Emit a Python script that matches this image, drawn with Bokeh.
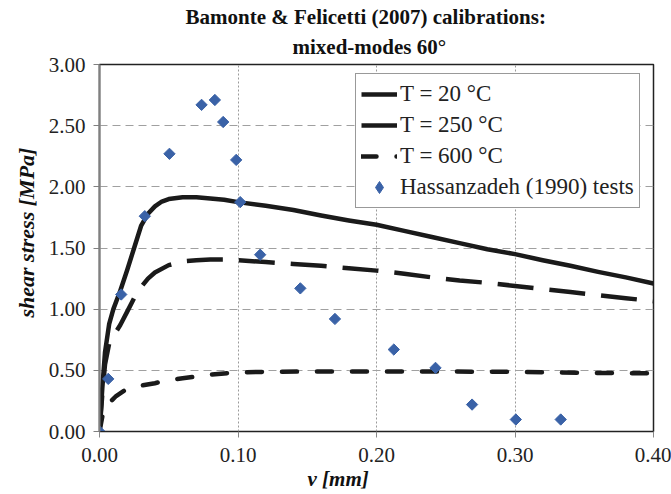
import numpy as np
from bokeh.plotting import figure
from bokeh.models import (FixedTicker, PrintfTickFormatter, Legend, LegendItem, Range1d, Title)
from bokeh.embed import file_html
from bokeh.resources import INLINE

# ---------------- data ----------------
x_20 = [0, 0.002, 0.004, 0.007, 0.010, 0.015, 0.020, 0.025, 0.030, 0.035, 0.040, 0.045, 0.050,
        0.060, 0.070, 0.080, 0.090, 0.100, 0.120, 0.140, 0.160, 0.180, 0.200, 0.220, 0.240,
        0.260, 0.280, 0.300, 0.320, 0.340, 0.360, 0.380, 0.400]
y_20 = [0, 0.35, 0.65, 0.88, 1.00, 1.15, 1.32, 1.50, 1.68, 1.78, 1.84, 1.88, 1.90,
        1.915, 1.915, 1.905, 1.895, 1.875, 1.845, 1.81, 1.765, 1.725, 1.69, 1.64, 1.59,
        1.54, 1.49, 1.45, 1.40, 1.355, 1.305, 1.26, 1.21]

x_250 = [0, 0.002, 0.004, 0.007, 0.010, 0.015, 0.020, 0.025, 0.030, 0.035, 0.040, 0.050,
         0.060, 0.070, 0.080, 0.090, 0.100, 0.120, 0.140, 0.160, 0.180, 0.200, 0.220, 0.240,
         0.260, 0.280, 0.300, 0.320, 0.340, 0.360, 0.380, 0.400]
y_250 = [0, 0.30, 0.55, 0.72, 0.78, 0.87, 0.98, 1.09, 1.18, 1.25, 1.30, 1.36,
         1.39, 1.40, 1.405, 1.405, 1.40, 1.385, 1.37, 1.355, 1.335, 1.315, 1.29, 1.26,
         1.235, 1.215, 1.19, 1.165, 1.14, 1.115, 1.09, 1.065]

x_600 = [0, 0.002, 0.004, 0.008, 0.012, 0.018, 0.025, 0.030, 0.040, 0.050, 0.060, 0.070,
         0.080, 0.090, 0.100, 0.120, 0.150, 0.200, 0.250, 0.300, 0.350, 0.400]
y_600 = [0, 0.12, 0.20, 0.245, 0.29, 0.335, 0.365, 0.375, 0.395, 0.42, 0.435, 0.45,
         0.465, 0.475, 0.482, 0.488, 0.49, 0.49, 0.49, 0.488, 0.48, 0.475]

x_test = [0.0, 0.0063, 0.0157, 0.0327, 0.0505, 0.0737, 0.0833, 0.0893, 0.0987, 0.1016,
          0.116, 0.145, 0.170, 0.2125, 0.2426, 0.269, 0.3006, 0.333]
y_test = [0.0, 0.43, 1.12, 1.76, 2.27, 2.67, 2.71, 2.53, 2.22, 1.875,
          1.445, 1.17, 0.92, 0.67, 0.52, 0.22, 0.098, 0.098]

x_ticks = [0.0, 0.1, 0.2, 0.3, 0.4]
y_ticks = [0.0, 0.5, 1.0, 1.5, 2.0, 2.5, 3.0]

title_1 = "Bamonte & Felicetti (2007) calibrations:"
title_2 = "mixed-modes 60°"
x_title = "v [mm]"
y_title = "shear stress [MPa]"
labels = ["T = 20 °C", "T = 250 °C", "T = 600 °C", "Hassanzadeh (1990) tests"]

# ---------------- figure ----------------
FONT = "Liberation Serif"
W, H = 671, 494
p = figure(width=W, height=H, output_backend="svg", toolbar_location=None,
           x_range=Range1d(0, 0.40), y_range=Range1d(0, 3.0),
           min_border_left=99, min_border_right=18, min_border_top=64, min_border_bottom=63)
p.background_fill_color = "white"
p.border_fill_color = "white"
p.outline_line_color = "#222222"
p.outline_line_width = 1.5

for ax in (p.xaxis[0], p.yaxis[0]):
    ax.major_label_text_font = FONT
    ax.major_label_text_font_size = "21px"
    ax.major_label_text_color = "#222222"
    ax.minor_tick_line_color = None
    ax.major_tick_in = 0
    ax.major_tick_out = 6
    ax.formatter = PrintfTickFormatter(format="%.2f")
p.xaxis[0].ticker = FixedTicker(ticks=x_ticks)
p.yaxis[0].ticker = FixedTicker(ticks=y_ticks)
p.xaxis[0].axis_line_color = "#222222"
p.xaxis[0].major_tick_line_color = "#888888"
p.xaxis[0].major_label_standoff = 10
p.yaxis[0].axis_line_color = "#808080"
p.yaxis[0].axis_line_width = 2
p.yaxis[0].major_tick_line_color = "#808080"
p.yaxis[0].major_label_standoff = 8

p.xgrid[0].grid_line_color = "#9a9a9a"
p.xgrid[0].grid_line_dash = "2 2"
p.xgrid[0].grid_line_width = 1
p.ygrid[0].grid_line_color = "#a0a0a0"
p.ygrid[0].grid_line_dash = "8 5"
p.ygrid[0].grid_line_width = 1

LC = "#1a1a1a"
DC = "#3a62a7"
r20 = p.line(x_20, y_20, line_color=LC, line_width=4.5, line_join="round")
r250 = p.line(x_250, y_250, line_color=LC, line_width=4.5, line_dash="36 16", line_cap="butt")
r600 = p.line(x_600, y_600, line_color=LC, line_width=4.5, line_dash="15 20", line_cap="round")
rt = p.scatter(x_test, y_test, marker="square", angle=np.pi / 4, size=8,
               fill_color=DC, line_color=DC)
# legend-only glyph (diamond shape), placed outside the visible range
rleg = p.scatter([-1.0], [-1.0], marker="diamond", size=11, fill_color=DC, line_color=DC)

legend = Legend(items=[LegendItem(label=labels[0], renderers=[r20]),
                       LegendItem(label=labels[1], renderers=[r250]),
                       LegendItem(label=labels[2], renderers=[r600]),
                       LegendItem(label=labels[3], renderers=[rleg])],
                location=(256, 223))
legend.label_text_font = FONT
legend.label_text_font_size = "23px"
legend.label_text_color = "#222222"
legend.glyph_width = 36
legend.glyph_height = 30
legend.label_height = 30
legend.label_standoff = 3
legend.spacing = 1
legend.padding = 5
legend.margin = 0
legend.border_line_color = "#333333"
legend.border_line_width = 1.2
legend.background_fill_alpha = 1.0
p.add_layout(legend, "center")

# titles
p.add_layout(Title(text=title_2, align="left", offset=193, text_font=FONT,
                   text_font_size="21px", text_font_style="bold", text_color="#111111",
                   standoff=12), "above")
p.add_layout(Title(text=title_1, align="left", offset=86, text_font=FONT,
                   text_font_size="21px", text_font_style="bold", text_color="#111111",
                   standoff=-4), "above")
p.add_layout(Title(text=x_title, align="left", offset=208, text_font=FONT,
                   text_font_size="21px", text_font_style="bold italic", text_color="#111111",
                   standoff=0), "below")
p.add_layout(Title(text=y_title, align="left", offset=114, text_font=FONT,
                   text_font_size="22px", text_font_style="bold italic", text_color="#111111",
                   standoff=14), "left")

open("out.html", "w").write(file_html(p, INLINE))
